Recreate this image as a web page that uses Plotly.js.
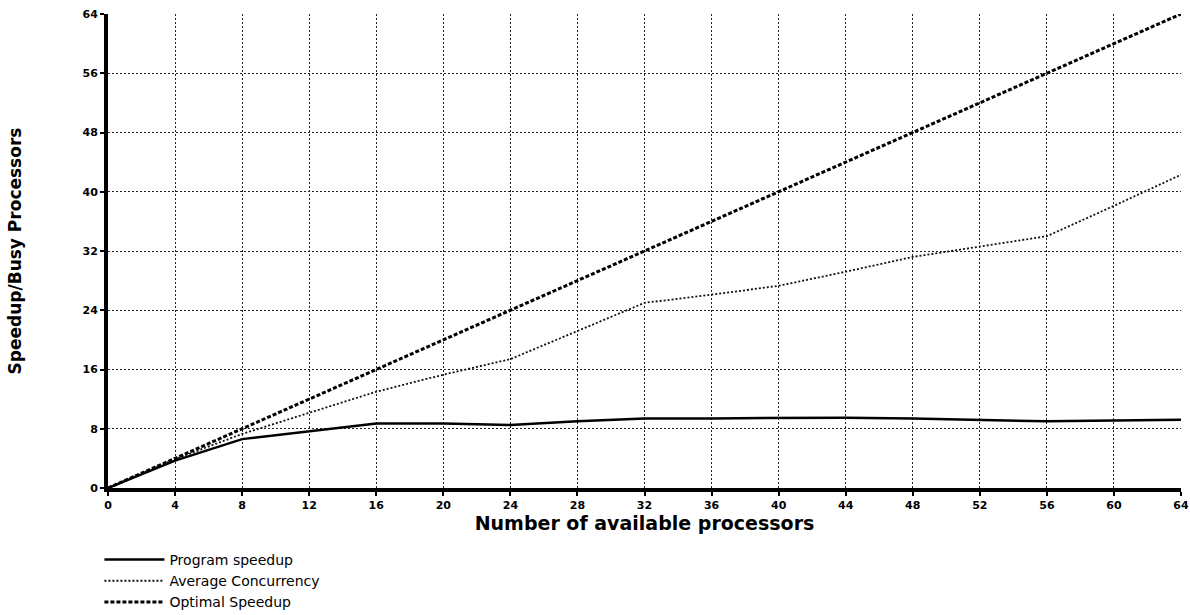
<!DOCTYPE html>
<html>
<head>
<meta charset="utf-8">
<script src="https://cdn.plot.ly/plotly-3.0.1.min.js"></script>
<style>
  html, body { margin: 0; padding: 0; background: #fff; }
  #chart { width: 1190px; height: 615px; }
</style>
</head>
<body>
<div id="chart"></div>
<script>
const processors = [0, 4, 8, 12, 16, 20, 24, 28, 32, 36, 40, 44, 48, 52, 56, 60, 64];
const programSpeedup = [0, 3.7, 6.6, 7.7, 8.7, 8.7, 8.5, 9.0, 9.4, 9.4, 9.5, 9.5, 9.4, 9.2, 9.0, 9.1, 9.2];
const avgConcurrency = [0, 3.9, 7.3, 10.1, 13.0, 15.3, 17.4, 21.2, 25.0, 26.1, 27.3, 29.2, 31.2, 32.6, 34.0, 38.1, 42.3];
const optimalSpeedup = [0, 4, 8, 12, 16, 20, 24, 28, 32, 36, 40, 44, 48, 52, 56, 60, 64];
const tickVals = [0, 4, 8, 12, 16, 20, 24, 28, 32, 36, 40, 44, 48, 52, 56, 60, 64];
const yTickVals = [0, 8, 16, 24, 32, 40, 48, 56, 64];

const traces = [
  { x: processors, y: programSpeedup, name: 'Program speedup', mode: 'lines',
    line: { color: '#000', width: 2.5 } },
  { x: processors, y: avgConcurrency, name: 'Average Concurrency', mode: 'lines',
    line: { color: '#111', width: 1.8, dash: '2px,2px' } },
  { x: processors, y: optimalSpeedup, name: 'Optimal Speedup', mode: 'lines',
    line: { color: '#000', width: 3, dash: '4px,2px' } }
];

const tickFont = { family: 'DejaVu Sans', size: 11, color: '#000', weight: 'bold' };

const layout = {
  width: 1190, height: 615,
  paper_bgcolor: '#fff', plot_bgcolor: '#fff',
  margin: { l: 108, r: 9, t: 14, b: 127, autoexpand: false },
  showlegend: true,
  legend: {
    x: -0.008, xanchor: 'left', xref: 'paper',
    y: -0.118, yanchor: 'top', yref: 'paper',
    font: { family: 'DejaVu Sans', size: 14, color: '#000' },
    bgcolor: 'rgba(0,0,0,0)', borderwidth: 0,
    tracegroupgap: 0, itemwidth: 60
  },
  xaxis: {
    range: [0, 64], tickvals: tickVals, ticktext: tickVals.map(String),
    showline: true, linecolor: '#000', linewidth: 4,
    ticks: 'outside', ticklen: 4, tickwidth: 2, tickcolor: '#000',
    showgrid: true, gridcolor: '#222', gridwidth: 1, griddash: '2px,2px',
    zeroline: false, tickfont: tickFont,
    title: { text: 'Number of available processors', standoff: 6,
      font: { family: 'DejaVu Sans', size: 19, color: '#000', weight: 'bold' } }
  },
  yaxis: {
    range: [0, 64], tickvals: yTickVals, ticktext: yTickVals.map(String),
    showline: true, linecolor: '#000', linewidth: 4,
    ticks: 'outside', ticklen: 4, tickwidth: 2, tickcolor: '#000',
    showgrid: true, gridcolor: '#222', gridwidth: 1, griddash: '2px,2px',
    zeroline: false, tickfont: tickFont,
    title: { text: 'Speedup/Busy Processors', standoff: 58,
      font: { family: 'DejaVu Sans', size: 17, color: '#000', weight: 'bold' } }
  }
};

Plotly.newPlot('chart', traces, layout, { displayModeBar: false, staticPlot: true });
</script>
</body>
</html>
